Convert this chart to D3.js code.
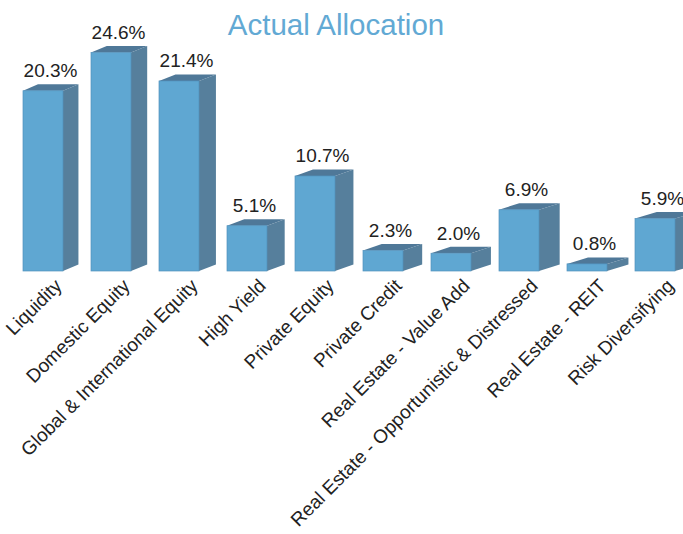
<!DOCTYPE html>
<html>
<head>
<meta charset="utf-8">
<script src="https://cdn.jsdelivr.net/npm/d3@7"></script>
<style>
  body { margin: 0; background: #fff; }
  svg { display: block; font-family: "Liberation Sans", Arial, sans-serif; }
</style>
</head>
<body>
<svg id="chart" width="683" height="534"></svg>
<script>
const categories = [
  "Liquidity", "Domestic Equity", "Global & International Equity", "High Yield",
  "Private Equity", "Private Credit", "Real Estate - Value Add",
  "Real Estate - Opportunistic & Distressed", "Real Estate - REIT", "Risk Diversifying"
];
const allocation = [20.3, 24.6, 21.4, 5.1, 10.7, 2.3, 2.0, 6.9, 0.8, 5.9];

const width = 683, height = 534;
const svg = d3.select("#chart");

// scales
const x = d3.scaleBand()
  .domain(categories)
  .range([23, 675])
  .paddingInner(28 / 68)
  .paddingOuter(0);

const y = d3.scaleLinear()
  .domain([0, 25])
  .range([271, 49]);

// fake 3d depth, grows a bit to the right
const depthX = xp => 15 + 0.011 * (xp - 23);
const depthY = -6.5;

const data = categories.map((c, i) => ({ name: c, value: allocation[i] }));

// title
svg.append("text")
  .attr("x", 336)
  .attr("y", 35)
  .attr("text-anchor", "middle")
  .attr("fill", "#62a9d4")
  .style("font-size", "29.5px")
  .text("Actual Allocation");

const bars = svg.append("g").selectAll("g")
  .data(data)
  .join("g");

bars.each(function(d) {
  const g = d3.select(this);
  const x0 = x(d.name), x1 = x0 + x.bandwidth();
  const y0 = y(0), y1 = y(d.value);
  const dl = depthX(x0), dr = depthX(x1);

  // side face
  g.append("path")
    .attr("d", `M${x1},${y1} L${x1 + dr},${y1 + depthY} L${x1 + dr},${y0 + depthY} L${x1},${y0} Z`)
    .attr("fill", "#567f9c");

  // top face
  g.append("path")
    .attr("d", `M${x0},${y1} L${x0 + dl},${y1 + depthY} L${x1 + dr},${y1 + depthY} L${x1},${y1} Z`)
    .attr("fill", "#4f7898");

  // front face
  g.append("rect")
    .attr("x", x0)
    .attr("y", y1)
    .attr("width", x.bandwidth())
    .attr("height", y0 - y1)
    .attr("fill", "#5fa7d2")
    .attr("stroke", "#5292bd")
    .attr("stroke-width", 0.7);

  // value label
  g.append("text")
    .attr("x", x0 + x.bandwidth() / 2 + 7.5)
    .attr("y", y1 - 13.5)
    .attr("text-anchor", "middle")
    .attr("fill", "#222")
    .style("font-size", "19px")
    .text(d.value.toFixed(1) + "%");
});

// category labels, rotated
svg.append("g").selectAll("text")
  .data(data)
  .join("text")
  .attr("transform", d => `translate(${x(d.name) + x.bandwidth() / 2 + 20},${287}) rotate(-45)`)
  .attr("text-anchor", "end")
  .attr("fill", "#222")
  .style("font-size", "19px")
  .text(d => d.name);
</script>
</body>
</html>
